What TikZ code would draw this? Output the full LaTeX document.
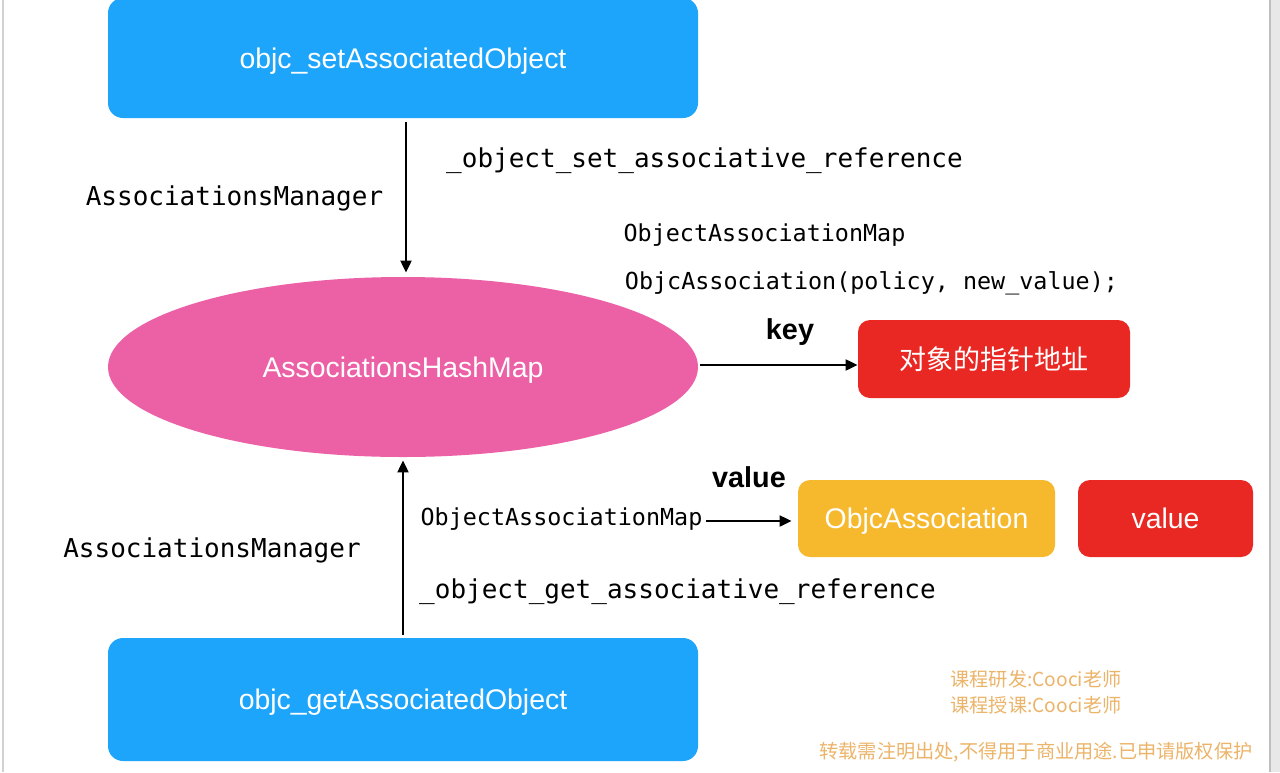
\documentclass[tikz,border=0pt]{standalone}
\usepackage{fontspec}
\setmainfont{Liberation Sans}
\setmonofont{DejaVu Sans Mono}
\newfontfamily\cjk{Noto Sans CJK SC}
\usetikzlibrary{shapes.geometric,arrows.meta}
\definecolor{funcblue}{RGB}{29,165,251}
\definecolor{mappink}{RGB}{236,96,166}
\definecolor{keyred}{RGB}{234,40,35}
\definecolor{assocyellow}{RGB}{246,185,45}
\definecolor{notetan}{RGB}{236,180,105}
\begin{document}
\begin{tikzpicture}[x=0.5pt,y=-0.5pt]
\tikzstyle{every node}+=[inner sep=0pt]
\tikzstyle{capmid}=[text height=10.2pt,text depth=0pt]
\tikzstyle{funcbox}=[rectangle,rounded corners=7.5pt,fill=funcblue,text=white,font=\fontsize{14.2pt}{17pt}\selectfont,minimum width=295pt,capmid]
\tikzstyle{valbox}=[rectangle,rounded corners=6pt,text=white,font=\fontsize{14.2pt}{17pt}\selectfont,minimum height=38.5pt]
\tikzstyle{code}=[font=\ttfamily\fontsize{13pt}{15pt}\selectfont]
\tikzstyle{codesmall}=[font=\ttfamily\fontsize{11.7pt}{14pt}\selectfont]
\tikzstyle{tag}=[font=\bfseries\fontsize{14.4pt}{17pt}\selectfont]
\tikzstyle{note}=[text=notetan,font=\cjk\fontsize{9.6pt}{12pt}\selectfont]
\tikzstyle{arr}=[line width=1pt,-{Triangle[length=6pt,width=5.5pt]}]
\useasboundingbox (0,0) rectangle (1280,772);
\fill[white] (0,0) rectangle (1280,772);
\fill[black!9] (1270,0) rectangle (1280,772);
\draw[black!18,line width=1pt] (3,0) -- (3,772);
\draw[black!25,line width=0.6pt] (1270,0) -- (1270,772);
\node[funcbox,minimum height=60pt] (set) at (403,58) {objc\_setAssociatedObject};
\node[ellipse,fill=mappink,text=white,minimum width=295pt,minimum height=90pt,font=\fontsize{14.2pt}{17pt}\selectfont,capmid] (hash) at (403,367) {AssociationsHashMap};
\node[funcbox,minimum height=61.5pt] (get) at (403,699.5) {objc\_getAssociatedObject};
\node[valbox,fill=keyred,minimum width=136pt,minimum height=39pt,font=\cjk\fontsize{13.5pt}{16pt}\selectfont] (key) at (994,359) {对象的指针地址};
\node[valbox,fill=assocyellow,minimum width=128.5pt,capmid] (assoc) at (926.5,518.5) {ObjcAssociation};
\node[valbox,fill=keyred,minimum width=87.5pt,capmid] (value) at (1165.5,518.5) {value};
\node[code] (mgrA) at (234.5,198) {AssociationsManager};
\node[code] (setref) at (704.5,161) {\_object\_set\_associative\_reference};
\node[codesmall] (mapA) at (764.5,235) {ObjectAssociationMap};
\node[codesmall] (newval) at (871.5,283) {ObjcAssociation(policy, new\_value);};
\node[tag] (keytag) at (790,332) {key};
\node[tag] (valtag) at (749,477) {value};
\node[codesmall] (mapB) at (561.5,519) {ObjectAssociationMap};
\node[code] (mgrB) at (212,550) {AssociationsManager};
\node[code] (getref) at (677.5,592) {\_object\_get\_associative\_reference};
\node[note] (dev) at (1036,679) {课程研发:Cooci老师};
\node[note] (teach) at (1036,705) {课程授课:Cooci老师};
\node[note] (copy) at (1036,752) {转载需注明出处,不得用于商业用途.已申请版权保护};
\draw[arr] ([xshift=1.5pt,yshift=-2pt]set.south) -- ([xshift=1.5pt,yshift=2pt]hash.north);
\draw[arr] ([yshift=1.5pt]get.north) -- ([yshift=-1.5pt]hash.south);
\draw[arr] ([xshift=1pt,yshift=1pt]hash.east) -- ([yshift=1pt]hash.east -| key.west);
\draw[arr] ([xshift=1.5pt,yshift=-1pt]mapB.east) -- ([xshift=-3pt,yshift=-1pt]mapB.east -| assoc.west);
\end{tikzpicture}
\end{document}
